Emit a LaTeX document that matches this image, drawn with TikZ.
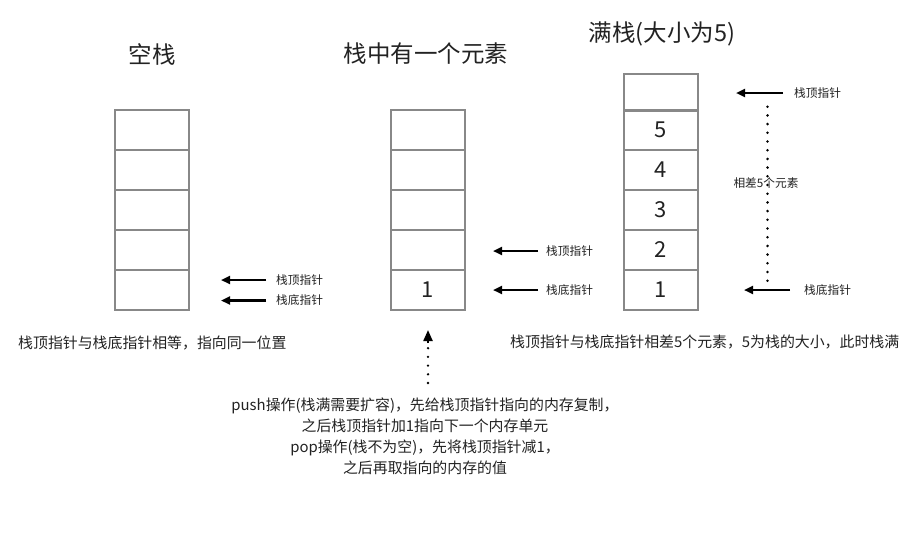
\documentclass[tikz,border=0pt]{standalone}
\usepackage{fontspec}
\setmainfont{Noto Sans CJK SC}
\usetikzlibrary{arrows.meta}
\definecolor{cellgray}{HTML}{888888}
\definecolor{txt}{HTML}{222222}
\tikzset{
  cell/.style={draw=cellgray, line width=2pt, minimum width=74pt, minimum height=40pt, inner sep=0pt, font=\fontsize{22}{22}\selectfont, text=txt},
  title/.style={font=\fontsize{23.5}{25}\selectfont, text=txt},
  lbl/.style={font=\fontsize{11.7}{13}\selectfont, text=txt, anchor=west, inner sep=0pt},
  captext/.style={font=\fontsize{14.9}{21}\selectfont, text=txt, inner sep=0pt},
  ptr/.style={line width=2.2pt, -{Triangle[length=9pt,width=8pt]}},
  dots/.style={line width=2.8pt, line cap=round, dash pattern=on 0pt off 8.7pt},
}
\begin{document}
\begin{tikzpicture}[x=1pt,y=-1pt]
\useasboundingbox (0,0) rectangle (920,538);
% titles
\node[title] (t1) at (152,54) {空栈};
\node[title] (t2) at (426,54) {栈中有一个元素};
\node[title] (t3) at (662,34) {满栈(大小为5)};
% stack 1
\node[cell] (a1) at (152,130) {};
\node[cell] (a2) at (152,170) {};
\node[cell] (a3) at (152,210) {};
\node[cell] (a4) at (152,250) {};
\node[cell] (a5) at (152,290) {};
% stack 2
\node[cell] (b1) at (428,130) {};
\node[cell] (b2) at (428,170) {};
\node[cell] (b3) at (428,210) {};
\node[cell] (b4) at (428,250) {};
\node[cell] (b5) at (428,290) {1};
% stack 3
\node[cell, minimum height=36.7pt] (c0) at (660.5,92.3) {};
\node[cell] (c1) at (660.5,130) {5};
\node[cell] (c2) at (660.5,170) {4};
\node[cell] (c3) at (660.5,210) {3};
\node[cell] (c4) at (660.5,250) {2};
\node[cell] (c5) at (660.5,290) {1};
% pointers stack 1
\node[lbl] (l1) at (276,280) {栈顶指针};
\node[lbl] (l2) at (276,300.5) {栈底指针};
\coordinate (p1s) at (266,280); \coordinate (p1e) at (221,280);
\coordinate (p2s) at (266,300.5); \coordinate (p2e) at (221,300.5);
\draw[ptr] (p1s) -- (p1e);
\draw[ptr] (p2s) -- (p2e);
% pointers stack 2
\node[lbl] (l3) at (546,251) {栈顶指针};
\node[lbl] (l4) at (546,290) {栈底指针};
\coordinate (p3s) at (538,251); \coordinate (p3e) at (493,251);
\coordinate (p4s) at (538,290); \coordinate (p4e) at (493,290);
\draw[ptr] (p3s) -- (p3e);
\draw[ptr] (p4s) -- (p4e);
% pointers stack 3
\node[lbl] (l5) at (794,93) {栈顶指针};
\node[lbl] (l6) at (804,290) {栈底指针};
\coordinate (p5s) at (783,93); \coordinate (p5e) at (736,93);
\coordinate (p6s) at (790,290); \coordinate (p6e) at (744,290);
\draw[ptr] (p5s) -- (p5e);
\draw[ptr] (p6s) -- (p6e);
% dotted span
\coordinate (d1) at (767.5,106.7); \coordinate (d2) at (767.5,281);
\draw[dots] (d1) -- (d2);
\node[lbl, anchor=center] (diff) at (766,183) {相差5个元素};
% captions
\node[captext, anchor=west] (cap1) at (18,343) {栈顶指针与栈底指针相等，指向同一位置};
\node[captext, anchor=west] (cap3) at (510,342) {栈顶指针与栈底指针相差5个元素，5为栈的大小，此时栈满};
% push/pop
\node[captext, align=center] (ops) at (425,436) {push操作(栈满需要扩容)，先给栈顶指针指向的内存复制，\\之后栈顶指针加1指向下一个内存单元\\pop操作(栈不为空)，先将栈顶指针减1，\\之后再取指向的内存的值};
\coordinate (u1) at (428,383); \coordinate (um) at (428,348);
\coordinate (uh) at (428,343); \coordinate (u2) at (428,330);
\draw[dots, line width=2.6pt] (u1) -- (um);
\draw[line width=2.2pt, -{Triangle[length=11pt,width=9pt]}] (uh) -- (u2);
\end{tikzpicture}
\end{document}
